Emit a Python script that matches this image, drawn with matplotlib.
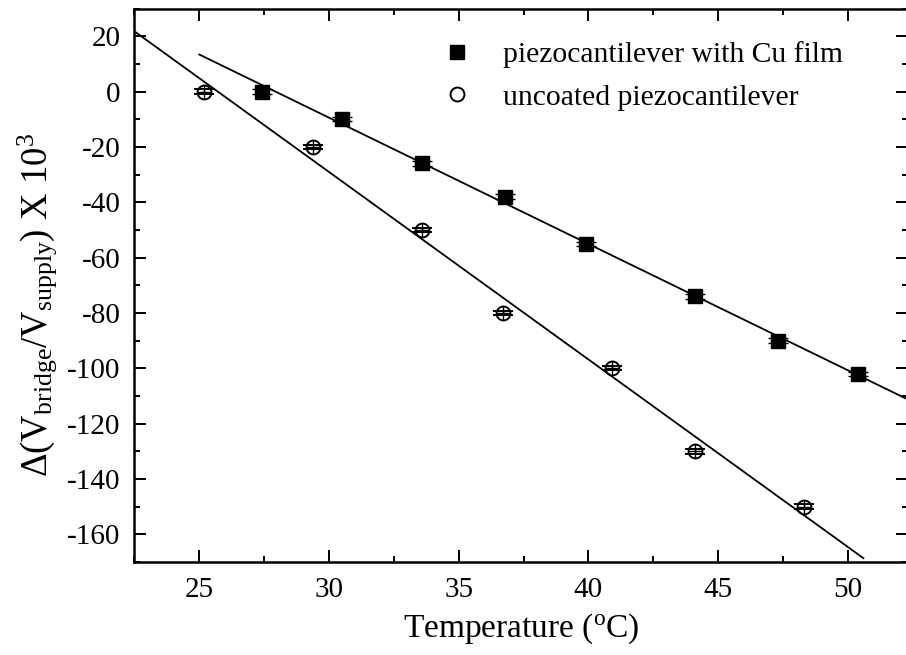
import numpy as np
import matplotlib
matplotlib.use("Agg")
import matplotlib.pyplot as plt
from matplotlib.lines import Line2D

plt.rcParams["font.family"] = ["Liberation Serif", "DejaVu Serif"]
plt.rcParams["mathtext.fontset"] = "custom"
plt.rcParams["mathtext.rm"] = "Liberation Serif"
plt.rcParams["mathtext.it"] = "Liberation Serif:italic"
plt.rcParams["mathtext.bf"] = "Liberation Serif:bold"
plt.rcParams["axes.unicode_minus"] = False

# Measured bridge output vs temperature
cu_temp = [27.4, 30.5, 33.6, 36.8, 39.9, 44.1, 47.3, 50.4]
cu_signal = [0, -10, -26, -38, -55, -74, -90, -102]
bare_temp = [25.2, 29.4, 33.6, 36.7, 40.9, 44.1, 48.3]
bare_signal = [0, -20, -50, -80, -100, -130, -150]
signal_err = 0.8

cu_label = "piezocantilever with Cu film"
bare_label = "uncoated piezocantilever"

# Spans over which the linear fits are drawn
cu_fit_span = (25.0, 53.0)
bare_fit_span = (22.0, 50.6)

W, H = 906, 655
fig = plt.figure(figsize=(W / 100, H / 100), dpi=100)
ax_l, ax_r, ax_t, ax_b = 134.45, 907.5, 8.5, 562.0
ax = fig.add_axes([ax_l / W, 1 - ax_b / H, (ax_r - ax_l) / W, (ax_b - ax_t) / H])
ax.set_xlim(22.5, 52.3)
ax.set_ylim(-170, 30)

# Least-squares lines
for xs, ys, span in [(cu_temp, cu_signal, cu_fit_span), (bare_temp, bare_signal, bare_fit_span)]:
    k, b = np.polyfit(xs, ys, 1)
    xx = np.array(span)
    ax.plot(xx, k * xx + b, color="black", lw=1.3, zorder=2)

# Data with error bars
ax.errorbar(cu_temp, cu_signal, yerr=signal_err, fmt="s", ms=10, mfc="black",
            mec="black", ecolor="black", elinewidth=1.0, capsize=7.5, capthick=1.0, zorder=3)
ax.errorbar(bare_temp, bare_signal, yerr=signal_err, fmt="o", ms=10, mfc="none",
            mec="black", mew=1.4, ecolor="black", elinewidth=1.0, capsize=7.5,
            capthick=1.0, zorder=3)
ax.plot(bare_temp, bare_signal, "+", ms=10, mew=1.0, color="black", zorder=3)

ax.set_xticks([25, 30, 35, 40, 45, 50])
ax.set_xticks(np.arange(22.5, 52.5, 2.5), minor=True)
ax.set_yticks(np.arange(-160, 21, 20))
ax.set_yticks(np.arange(-170, 31, 10), minor=True)
ax.tick_params(which="both", direction="in", top=True, right=True, width=1.4,
               labelsize=21, color="black")
ax.tick_params(which="major", length=8.5)
ax.tick_params(which="minor", length=4.3)
ax.tick_params(axis="x", pad=11)
ax.tick_params(axis="y", pad=10)
for s in ax.spines.values():
    s.set_linewidth(1.8)

ax.set_xlabel(r"Temperature ($^{\rm o}$C)", fontsize=24, labelpad=6)
ax.set_ylabel(r"$\Delta$(V$_{\rm bridge}$/V$_{\rm supply}$) X 10$^{3}$", fontsize=26.5)
ax.yaxis.set_label_coords(-0.097, 0.465)

handles = [
    Line2D([], [], ls="none", marker="s", ms=10, mfc="black", mec="black"),
    Line2D([], [], ls="none", marker="o", ms=10, mfc="none", mec="black", mew=1.4),
]
ax.legend(handles, [cu_label, bare_label], loc="upper left",
          bbox_to_anchor=(442 / W, 1 - 41 / H), bbox_transform=fig.transFigure,
          frameon=False, fontsize=21.3, handlelength=1.0, handletextpad=1.07,
          labelspacing=0.54, borderpad=0, borderaxespad=0)

fig.savefig("out.png", dpi=100)
